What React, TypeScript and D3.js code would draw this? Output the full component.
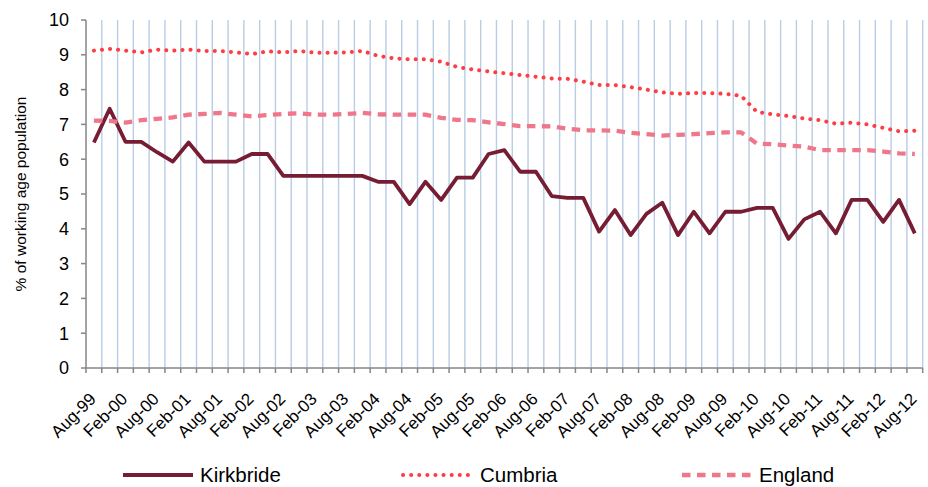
import React, { useEffect, useRef } from 'react';
import * as d3 from 'd3';

// Quarterly categories, Aug-99 .. Aug-12
const quarters = [
    'Aug-99', 'Nov-99', 'Feb-00', 'May-00', 'Aug-00', 'Nov-00', 'Feb-01', 'May-01',
    'Aug-01', 'Nov-01', 'Feb-02', 'May-02', 'Aug-02', 'Nov-02', 'Feb-03', 'May-03',
    'Aug-03', 'Nov-03', 'Feb-04', 'May-04', 'Aug-04', 'Nov-04', 'Feb-05', 'May-05',
    'Aug-05', 'Nov-05', 'Feb-06', 'May-06', 'Aug-06', 'Nov-06', 'Feb-07', 'May-07',
    'Aug-07', 'Nov-07', 'Feb-08', 'May-08', 'Aug-08', 'Nov-08', 'Feb-09', 'May-09',
    'Aug-09', 'Nov-09', 'Feb-10', 'May-10', 'Aug-10', 'Nov-10', 'Feb-11', 'May-11',
    'Aug-11', 'Nov-11', 'Feb-12', 'May-12', 'Aug-12'
];

const kirkbride = [
    6.48, 7.45, 6.5, 6.5, 6.2, 5.93, 6.48, 5.93, 5.93, 5.93, 6.15, 6.15, 5.52, 5.52,
    5.52, 5.52, 5.52, 5.52, 5.35, 5.35, 4.71, 5.35, 4.83, 5.47, 5.47, 6.15, 6.26, 5.64,
    5.64, 4.94, 4.89, 4.89, 3.92, 4.54, 3.82, 4.43, 4.75, 3.82, 4.49, 3.87, 4.49, 4.49,
    4.6, 4.6, 3.71, 4.27, 4.49, 3.87, 4.83, 4.83, 4.2, 4.83, 3.87
];

const cumbria = [
    9.12, 9.17, 9.12, 9.07, 9.15, 9.12, 9.15, 9.11, 9.11, 9.07, 9.02, 9.1, 9.07, 9.11,
    9.06, 9.06, 9.07, 9.11, 8.97, 8.9, 8.87, 8.87, 8.8, 8.65, 8.58, 8.52, 8.47, 8.42,
    8.37, 8.32, 8.31, 8.23, 8.13, 8.13, 8.07, 8.0, 7.92, 7.88, 7.9, 7.9, 7.88, 7.82,
    7.36, 7.29, 7.24, 7.17, 7.12, 7.02, 7.05, 7.0, 6.9, 6.8, 6.82
];

const england = [
    7.11, 7.1, 7.05, 7.12, 7.16, 7.2, 7.28, 7.3, 7.33, 7.28, 7.23, 7.27, 7.3, 7.32,
    7.28, 7.28, 7.3, 7.33, 7.29, 7.28, 7.28, 7.28, 7.19, 7.13, 7.12, 7.06, 7.01, 6.95,
    6.95, 6.94, 6.88, 6.83, 6.83, 6.82, 6.76, 6.72, 6.68, 6.7, 6.72, 6.75, 6.77, 6.77,
    6.45, 6.43, 6.39, 6.36, 6.26, 6.26, 6.26, 6.26, 6.22, 6.17, 6.15
];

const yTicks = [0, 1, 2, 3, 4, 5, 6, 7, 8, 9, 10];

const seriesNames = ['Kirkbride', 'Cumbria', 'England'];

const FONT = 'Liberation Sans, Arial, sans-serif';

export default function App() {
    const svgRef = useRef<SVGSVGElement>(null);

    useEffect(() => {
        if (!svgRef.current) return;
        const svg = d3.select(svgRef.current);
        svg.selectAll('*').remove();

        const plot = { left: 86, right: 922.7, top: 20, bottom: 368 };

        const x = d3.scaleBand<string>()
            .domain(quarters)
            .range([plot.left, plot.right])
            .padding(0);
        const cx = (q: string) => (x(q) as number) + x.bandwidth() / 2;

        const y = d3.scaleLinear()
            .domain([0, 10])
            .range([plot.bottom, plot.top]);

        const axisColor = '#868686';

        // vertical gridlines at category boundaries
        const bounds = quarters.slice(1).map(q => x(q) as number).concat([plot.right]);
        svg.append('g')
            .selectAll('line')
            .data(bounds)
            .enter()
            .append('line')
            .attr('x1', d => d)
            .attr('x2', d => d)
            .attr('y1', plot.top)
            .attr('y2', plot.bottom)
            .attr('stroke', '#b9cde5')
            .attr('stroke-width', 1.4);

        // y axis
        const yAxis = svg.append('g');
        yAxis.append('line')
            .attr('x1', plot.left).attr('x2', plot.left)
            .attr('y1', plot.top).attr('y2', plot.bottom)
            .attr('stroke', axisColor).attr('stroke-width', 1.5);
        yAxis.selectAll('.tick')
            .data(yTicks)
            .enter()
            .append('line')
            .attr('x1', plot.left - 5).attr('x2', plot.left)
            .attr('y1', d => y(d)).attr('y2', d => y(d))
            .attr('stroke', axisColor).attr('stroke-width', 1.5);
        yAxis.selectAll('text')
            .data(yTicks)
            .enter()
            .append('text')
            .attr('x', 69)
            .attr('y', d => y(d))
            .attr('dy', '0.35em')
            .attr('text-anchor', 'end')
            .style('font-family', FONT)
            .style('font-size', '18px')
            .attr('fill', '#000')
            .text(d => d);

        svg.append('text')
            .attr('transform', `translate(26,${(plot.top + plot.bottom) / 2}) rotate(-90)`)
            .attr('text-anchor', 'middle')
            .style('font-family', FONT)
            .style('font-size', '15.5px')
            .attr('fill', '#000')
            .text('% of working age population');

        // x axis
        const xAxis = svg.append('g');
        xAxis.append('line')
            .attr('x1', plot.left).attr('x2', plot.right)
            .attr('y1', plot.bottom).attr('y2', plot.bottom)
            .attr('stroke', axisColor).attr('stroke-width', 1.5);
        xAxis.selectAll('.tick')
            .data([plot.left].concat(bounds))
            .enter()
            .append('line')
            .attr('x1', d => d).attr('x2', d => d)
            .attr('y1', plot.bottom).attr('y2', plot.bottom + 5)
            .attr('stroke', axisColor).attr('stroke-width', 1.5);
        xAxis.selectAll('text')
            .data(quarters.filter((q, i) => i % 2 === 0))
            .enter()
            .append('text')
            .attr('transform', q => `translate(${cx(q) + 3},${plot.bottom + 32}) rotate(-45)`)
            .attr('text-anchor', 'end')
            .style('font-family', FONT)
            .style('font-size', '17px')
            .attr('fill', '#000')
            .text(q => q);

        const line = d3.line<number>()
            .x((d, i) => cx(quarters[i]))
            .y(d => y(d));

        const styles = [
            { values: kirkbride, color: '#761d33', width: 3.8, dash: null, cap: 'butt' },
            { values: cumbria, color: '#ff3d44', width: 4, dash: '0.1 8', cap: 'round' },
            { values: england, color: '#f07689', width: 4.3, dash: '8.5 6.5', cap: 'butt' }
        ];

        styles.forEach(s => {
            svg.append('path')
                .datum(s.values)
                .attr('d', line)
                .attr('fill', 'none')
                .attr('stroke', s.color)
                .attr('stroke-width', s.width)
                .attr('stroke-linejoin', 'round')
                .attr('stroke-linecap', s.cap)
                .attr('stroke-dasharray', s.dash);
        });

        // legend
        const legendX = [123, 403, 682];
        const legend = svg.append('g');
        seriesNames.forEach((name, i) => {
            const s = styles[i];
            legend.append('line')
                .attr('x1', legendX[i]).attr('x2', legendX[i] + 70)
                .attr('y1', 475).attr('y2', 475)
                .attr('stroke', s.color)
                .attr('stroke-width', s.width)
                .attr('stroke-linecap', s.cap)
                .attr('stroke-dasharray', s.dash);
            legend.append('text')
                .attr('x', legendX[i] + 77)
                .attr('y', 482)
                .style('font-family', FONT)
                .style('font-size', '20.5px')
                .attr('fill', '#000')
                .text(name);
        });
    }, []);

    return (
        <svg
            ref={svgRef}
            width={928}
            height={487}
            style={{ position: 'absolute', left: 0, top: 0, background: '#fff' }}
        />
    );
}
